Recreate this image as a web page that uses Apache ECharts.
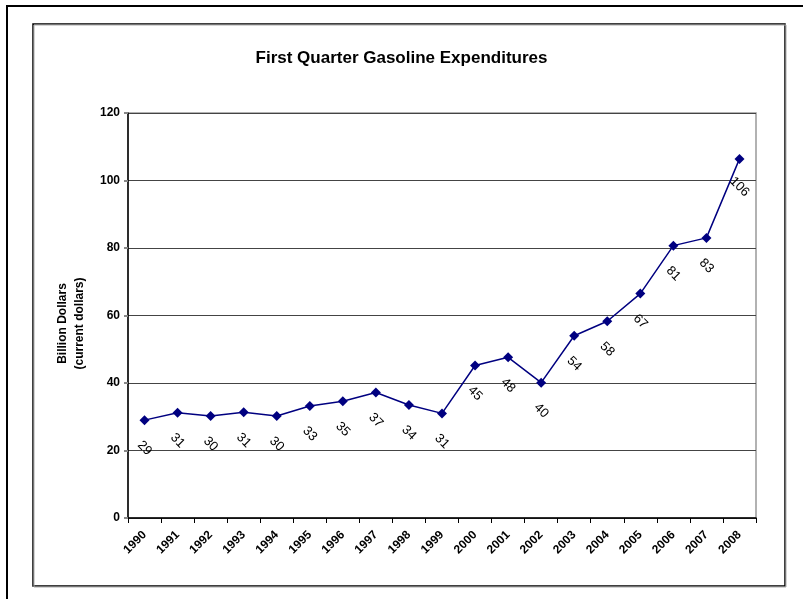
<!DOCTYPE html>
<html>
<head>
<meta charset="utf-8">
<script src="https://cdn.jsdelivr.net/npm/echarts@6/dist/echarts.min.js"></script>
<style>
  html, body { margin: 0; padding: 0; background: #fff; }
  #chart { width: 803px; height: 599px; }
</style>
</head>
<body>
<div id="chart"></div>
<script>
// data
var years = ['1990', '1991', '1992', '1993', '1994', '1995', '1996', '1997', '1998', '1999',
  '2000', '2001', '2002', '2003', '2004', '2005', '2006', '2007', '2008']
var spending = [29, 31.2, 30.2, 31.3, 30.2, 33.2, 34.6, 37.2, 33.5, 31,
  45.2, 47.6, 40.1, 54, 58.3, 66.5, 80.7, 83, 106.4]
var yTicks = [0, 20, 40, 60, 80, 100, 120]

var myChart = echarts.init(document.getElementById('chart'))

var font = 'Arial, "Liberation Sans", sans-serif'

var option = {
  animation: false,
  backgroundColor: '#fff',
  title: {
    text: 'First Quarter Gasoline Expenditures',
    left: 'center',
    top: 45,
    textStyle: { fontFamily: font, fontSize: 17, fontWeight: 'bold', color: '#000' }
  },
  graphic: [
    // outer frame
    { type: 'rect', shape: { x: 7, y: 6, width: 810, height: 610 },
      style: { fill: null, stroke: '#000', lineWidth: 2 }, silent: true },
    // inner chart frame with small shadow
    { type: 'rect', shape: { x: 34, y: 25, width: 752, height: 562 },
      style: { fill: null, stroke: '#aaa', lineWidth: 1 }, silent: true },
    { type: 'rect', shape: { x: 33, y: 24, width: 752, height: 562 },
      style: { fill: '#fff', stroke: '#000', lineWidth: 1.5 }, silent: true, z: -1 }
  ],
  grid: {
    left: 128, top: 113, right: 47, bottom: 81,
    show: true, borderColor: '#999', borderWidth: 1.5, backgroundColor: 'transparent'
  },
  xAxis: {
    type: 'category',
    data: years,
    boundaryGap: true,
    axisLine: { lineStyle: { color: '#000', width: 1.5 } },
    axisTick: { show: true, length: 5, interval: 0, lineStyle: { color: '#000' } },
    axisLabel: {
      interval: 0, rotate: 45, margin: 15,
      fontFamily: font, fontSize: 12, fontWeight: 'bold', color: '#000'
    },
    splitLine: { show: false }
  },
  yAxis: {
    type: 'value',
    min: yTicks[0],
    max: yTicks[yTicks.length - 1],
    interval: yTicks[1] - yTicks[0],
    name: 'Billion Dollars\n(current dollars)',
    nameLocation: 'middle',
    nameGap: 40,
    nameRotate: 90,
    nameTextStyle: {
      fontFamily: font, fontSize: 12, fontWeight: 'bold', color: '#000',
      lineHeight: 17, padding: [0, 16, 0, 0]
    },
    axisLine: { show: true, lineStyle: { color: '#000', width: 1.5 } },
    axisTick: { show: true, length: 4, lineStyle: { color: '#888', width: 2 } },
    axisLabel: { margin: 8, fontFamily: font, fontSize: 12, fontWeight: 'bold', color: '#000' },
    splitLine: { show: true, lineStyle: { color: '#444', width: 1 } }
  },
  series: [
    {
      type: 'line',
      data: spending,
      symbol: 'diamond',
      symbolSize: 10,
      showAllSymbol: true,
      itemStyle: { color: '#000080' },
      lineStyle: { color: '#000080', width: 1.5 },
      label: {
        show: true,
        position: ['50%', 33],
        rotate: -45,
        align: 'center',
        verticalAlign: 'middle',
        fontFamily: font,
        fontSize: 13,
        color: '#000',
        formatter: function (p) {
          return Math.round(p.value)
        }
      }
    }
  ]
}

myChart.setOption(option)
</script>
</body>
</html>
